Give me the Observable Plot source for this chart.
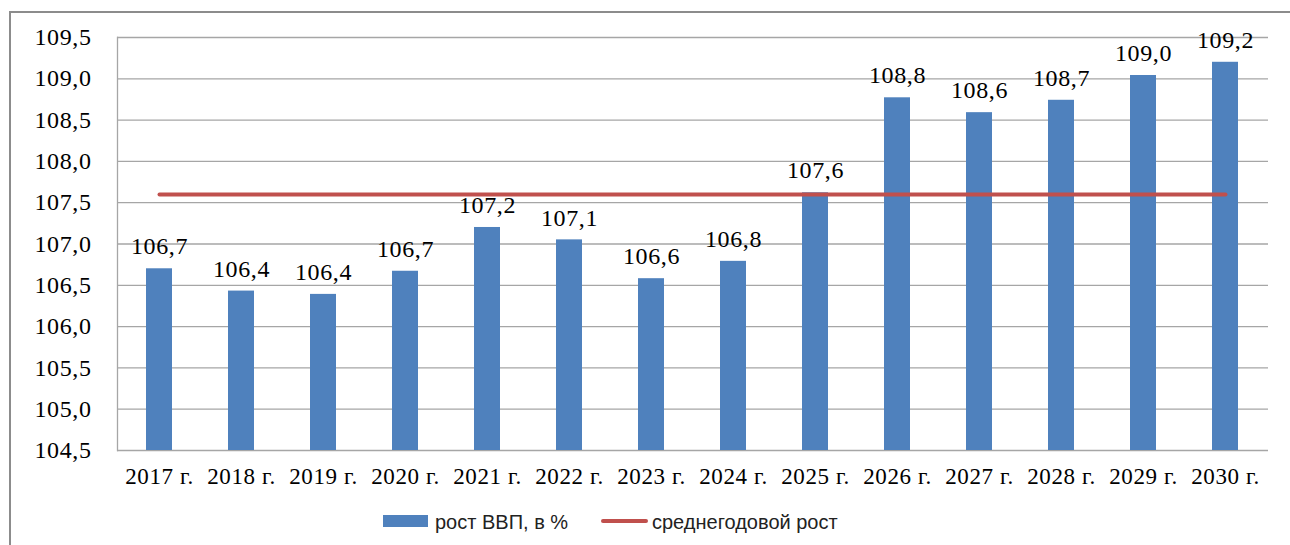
<!DOCTYPE html>
<html><head><meta charset="utf-8">
<script src="https://cdn.jsdelivr.net/npm/d3@7"></script>
<script src="https://cdn.jsdelivr.net/npm/@observablehq/plot@0.6"></script>
<style>
html,body{margin:0;padding:0;background:#fff;width:1290px;height:545px;overflow:hidden;position:relative;}
#frame{position:absolute;left:9px;top:11px;width:1290px;height:545px;border-top:2px solid #8c8c8c;border-left:2px solid #8c8c8c;box-sizing:border-box;}
#chart{position:absolute;left:0;top:0;}
#chart svg text{letter-spacing:0.6px;}
.leg{position:absolute;font-family:"Liberation Sans",Arial,sans-serif;font-size:20px;color:#222;line-height:20px;}
.sw{position:absolute;}
</style>
</head><body>
<div id="frame"></div>
<div id="chart"></div>
<div id="legend"></div>
<script>
const years = ["2017 г.","2018 г.","2019 г.","2020 г.","2021 г.","2022 г.","2023 г.","2024 г.","2025 г.","2026 г.","2027 г.","2028 г.","2029 г.","2030 г."];
const growth = [106.70,106.43,106.39,106.67,107.20,107.05,106.58,106.79,107.62,108.77,108.59,108.74,109.04,109.20];
const valueLabels = ["106,7","106,4","106,4","106,7","107,2","107,1","106,6","106,8","107,6","108,8","108,6","108,7","109,0","109,2"];
const averageGrowth = 107.6;
const yTicks = [104.5,105.0,105.5,106.0,106.5,107.0,107.5,108.0,108.5,109.0,109.5];
const yTickLabels = ["104,5","105,0","105,5","106,0","106,5","107,0","107,5","108,0","108,5","109,0","109,5"];
const seriesNames = ["рост ВВП, в %","среднегодовой рост"];
const seriesColors = ["#4F81BD","#C0504D"];

const data = years.map((y,i)=>({year:y, value:growth[i], label:valueLabels[i], avg:averageGrowth}));

const chart = Plot.plot({
  width:1290, height:500,
  marginLeft:117, marginRight:22, marginTop:37, marginBottom:50,
  x:{domain:years, paddingInner:0.68, paddingOuter:0.34, label:null},
  y:{domain:[104.5,109.5], label:null},
  style:{fontFamily:"'Liberation Serif','Times New Roman',serif", background:"transparent", overflow:"visible", color:"#000"},
  marks:[
    Plot.gridY(yTicks,{stroke:"#a6a6a6", strokeOpacity:1, strokeWidth:1.3}),
    Plot.frame({anchor:"left", stroke:"#a6a6a6", strokeWidth:1.3}),
    Plot.barY(data,{x:"year", y1:104.5, y2:"value", fill:seriesColors[0]}),
    Plot.lineY(data,{x:"year", y:"avg", stroke:seriesColors[1], strokeWidth:4}),
    Plot.text(data,{x:"year", y:"value", text:"label", dy:-22, fontSize:24, fill:"#000"}),
    Plot.axisY({ticks:yTicks, tickFormat:d=>yTickLabels[yTicks.findIndex(t=>Math.abs(t-d)<1e-9)], tickSize:0, tickPadding:26, fontSize:24, fill:"#000", label:null}),
    Plot.axisX({tickSize:0, tickPadding:17, fontSize:23, fill:"#000", label:null})
  ]
});
document.getElementById("chart").appendChild(chart);

const legend = document.getElementById("legend");
legend.innerHTML =
  `<div class="sw" style="left:383px;top:515px;width:45px;height:12px;background:${seriesColors[0]}"></div>`+
  `<div class="leg" style="left:435px;top:512px">${seriesNames[0]}</div>`+
  `<div class="sw" style="left:601px;top:519px;width:47px;height:4px;background:${seriesColors[1]};border-radius:2px"></div>`+
  `<div class="leg" style="left:652px;top:512px">${seriesNames[1]}</div>`;
</script>
</body></html>
